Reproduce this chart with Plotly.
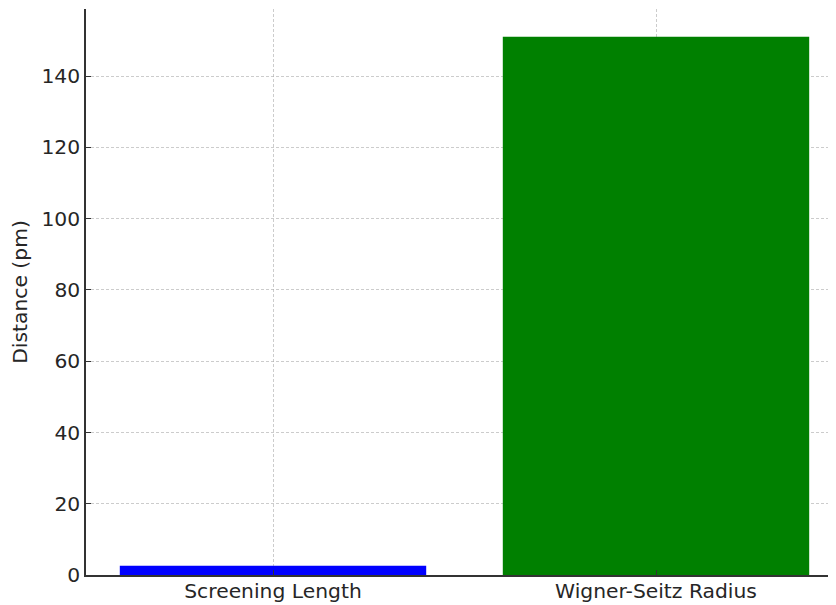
import plotly.graph_objects as go

categories = ["Screening Length", "Wigner-Seitz Radius"]
values = [2.6, 151.0]
colors = ["blue", "green"]
y_ticks = [0, 20, 40, 60, 80, 100, 120, 140]

x_pos = list(range(len(categories)))

fig = go.Figure()
fig.add_trace(go.Bar(
    x=x_pos, y=values, width=0.8, marker=dict(color=colors, line=dict(width=0)),
    showlegend=False,
))

# page has an 8px body margin; compensate
OFF = 8
W, H = 836 - OFF, 605 - OFF
px_per_unit = 383.0
left_px = 86 - OFF
x0 = -(273 - 86) / px_per_unit
x1 = x0 + (W - left_px) / px_per_unit

grid = "rgba(170,170,170,0.6)"
axis_col = "#333333"
fs = 20.3
fig.update_layout(
    width=W, height=H,
    margin=dict(l=left_px, r=0, t=1, b=30, autoexpand=False),
    plot_bgcolor="white", paper_bgcolor="white",
    font=dict(family="DejaVu Sans", size=fs, color="#262626"),
    xaxis=dict(
        range=[x0, x1], tickvals=x_pos, ticktext=categories,
        showgrid=True, gridcolor=grid, griddash="3px,2px", gridwidth=1,
        showline=True, linecolor=axis_col, linewidth=1.5,
        ticks="inside", ticklen=5, tickcolor=axis_col,
        zeroline=False, layer="above traces", automargin=False,
        ticklabelstandoff=-3,
    ),
    yaxis=dict(
        range=[0, 158.8], tickvals=y_ticks,
        showgrid=True, gridcolor=grid, griddash="3px,2px", gridwidth=1,
        showline=True, linecolor=axis_col, linewidth=1.5,
        ticks="inside", ticklen=5, tickcolor=axis_col,
        zeroline=False, layer="above traces", automargin=False,
        ticklabelstandoff=0,
        title=dict(text="Distance (pm)", standoff=10,
                   font=dict(size=fs, family="DejaVu Sans", color="#262626")),
    ),
)

fig.write_html("out.html")
